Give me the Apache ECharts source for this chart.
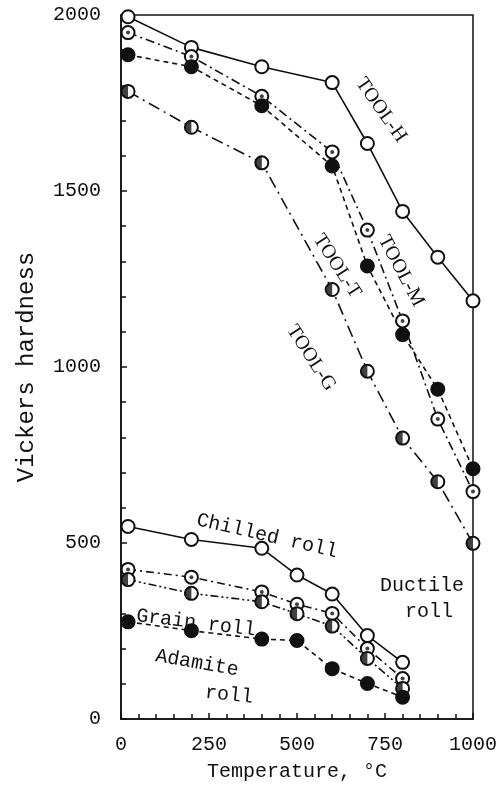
<!DOCTYPE html>
<html>
<head>
<meta charset="utf-8">
<script src="https://cdn.jsdelivr.net/npm/echarts@6/dist/echarts.min.js"></script>
<style>html,body{margin:0;padding:0;background:#fff}#c{width:500px;height:787px}</style>
</head>
<body>
<div id="c"></div>
<script>
// ---- data ----
const toolTemps = [20, 200, 400, 600, 700, 800, 900, 1000];
const toolH = [1995, 1908, 1853, 1808, 1635, 1442, 1312, 1188];
const toolM = [1950, 1882, 1769, 1611, 1389, 1131, 852, 646];
const toolT = [1887, 1853, 1742, 1571, 1287, 1092, 937, 711];
const toolG = [1783, 1681, 1580, 1220, 988, 798, 674, 499];

const rollTemps = [20, 200, 400, 500, 600, 700, 800];
const chilledRoll = [547, 510, 485, 409, 355, 237, 161];
const ductileRoll = [425, 403, 361, 326, 300, 200, 115];
const grainRoll = [396, 357, 333, 299, 264, 172, 87];
const adamiteRoll = [276, 251, 227, 223, 143, 101, 62];

const xTicks = [0, 250, 500, 750, 1000];
const yTicks = [0, 500, 1000, 1500, 2000];

const pairs = (xs, ys) => xs.map((x, i) => [x, ys[i]]);

const HALF = 'path://M10,0 A10,10 0 0 0 10,20 Z';
const SYM = 13;

function lineSeries(name, xs, ys, kind, dash) {
  const filled = kind === 'filled';
  return {
    name, type: 'line', data: pairs(xs, ys), z: 2,
    symbol: 'circle', symbolSize: SYM, showSymbol: true,
    lineStyle: { color: '#111', width: 1.6, type: dash },
    itemStyle: { color: filled ? '#111' : '#fff', borderColor: '#111', borderWidth: 2, opacity: 1 },
    emphasis: { disabled: true }, animation: false
  };
}
function dotOverlay(xs, ys) {
  return { type: 'scatter', data: pairs(xs, ys), z: 4, symbol: 'circle', symbolSize: 4,
    itemStyle: { color: '#111' }, emphasis: { disabled: true }, silent: true };
}
function halfOverlay(xs, ys) {
  return { type: 'scatter', data: pairs(xs, ys), z: 4, symbol: HALF, symbolSize: [SYM / 2, SYM],
    symbolOffset: [-SYM / 4, 0], itemStyle: { color: '#111' }, emphasis: { disabled: true }, silent: true };
}

const chart = echarts.init(document.getElementById('c'), null, { renderer: 'canvas' });
const mono = '"Liberation Mono", "DejaVu Sans Mono", monospace';
const serif = '"Liberation Serif", "DejaVu Serif", serif';
const deg = Math.PI / 180;

// rotCw: clockwise rotation in degrees
function label(text, x, y, rotCw, font) {
  return { type: 'text', x, y, rotation: -rotCw * deg, z: 10,
    style: { text, font, fill: '#111', align: 'center', verticalAlign: 'middle' } };
}

chart.setOption({
  backgroundColor: '#fff',
  animation: false,
  grid: { left: 121, right: 26, top: 15, bottom: 63, show: true, borderColor: '#111', borderWidth: 1.5, backgroundColor: 'transparent' },
  xAxis: {
    type: 'value', min: xTicks[0], max: xTicks[xTicks.length - 1], interval: 250,
    name: 'Temperature, °C', nameLocation: 'middle', nameGap: 43,
    nameTextStyle: { fontFamily: mono, fontSize: 20, color: '#111' },
    axisLine: { show: true, lineStyle: { color: '#111', width: 1.6 } },
    axisTick: { show: true, inside: true, length: 6, lineStyle: { color: '#111', width: 1.5 } },
    minorTick: { show: true, splitNumber: 5, length: 5, lineStyle: { color: '#111', width: 1.5 } },
    axisLabel: { fontFamily: mono, fontSize: 20, color: '#111', margin: 16,
      customValues: xTicks, formatter: v => String(v) },
    splitLine: { show: false }, minorSplitLine: { show: false }
  },
  yAxis: {
    type: 'value', min: yTicks[0], max: yTicks[yTicks.length - 1], interval: 500,
    name: 'Vickers hardness', nameLocation: 'middle', nameGap: 82, nameRotate: 90,
    nameTextStyle: { fontFamily: mono, fontSize: 24, color: '#111' },
    axisLine: { show: true, lineStyle: { color: '#111', width: 1.6 } },
    axisTick: { show: true, inside: true, length: 6, lineStyle: { color: '#111', width: 1.5 } },
    minorTick: { show: true, splitNumber: 5, length: 5, lineStyle: { color: '#111', width: 1.5 } },
    axisLabel: { fontFamily: mono, fontSize: 20, color: '#111', margin: 20,
      customValues: yTicks, formatter: v => String(v) },
    splitLine: { show: false }, minorSplitLine: { show: false }
  },
  series: [
    lineSeries('TOOL-H', toolTemps, toolH, 'open', 'solid'),
    lineSeries('TOOL-M', toolTemps, toolM, 'open', [9, 4, 2, 4]),
    dotOverlay(toolTemps, toolM),
    lineSeries('TOOL-T', toolTemps, toolT, 'filled', [5, 4]),
    lineSeries('TOOL-G', toolTemps, toolG, 'open', [12, 5, 2, 5]),
    halfOverlay(toolTemps, toolG),
    lineSeries('Chilled roll', rollTemps, chilledRoll, 'open', 'solid'),
    lineSeries('Ductile roll', rollTemps, ductileRoll, 'open', [8, 4, 2, 4]),
    dotOverlay(rollTemps, ductileRoll),
    lineSeries('Grain roll', rollTemps, grainRoll, 'open', [8, 3, 2, 3, 2, 3]),
    halfOverlay(rollTemps, grainRoll),
    lineSeries('Adamite roll', rollTemps, adamiteRoll, 'filled', [5, 4])
  ],
  graphic: [
    label('TOOL-H', 381, 110, 55, '20px ' + serif),
    label('TOOL-M', 401, 271, 62, '20px ' + serif),
    label('TOOL-T', 337, 266, 57, '20px ' + serif),
    label('TOOL-G', 311, 358, 57, '20px ' + serif),
    label('Chilled roll', 267, 536, 13, '20px ' + mono),
    label('Grain roll', 196, 623, 7, '20px ' + mono),
    label('Adamite', 197, 663, 10, '20px ' + mono),
    label('roll', 229, 695, 6, '20px ' + mono),
    label('Ductile', 422, 586, 0, '20px ' + mono),
    label('roll', 429, 612, 0, '20px ' + mono)
  ]
});
</script>
</body>
</html>
